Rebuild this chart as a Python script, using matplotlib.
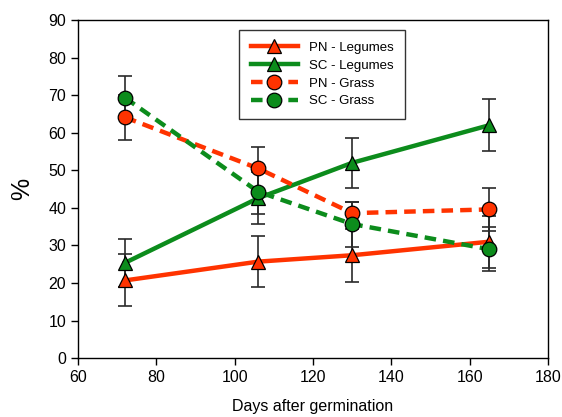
import matplotlib
matplotlib.use("Agg")
import matplotlib.pyplot as plt

plt.rcParams["font.family"] = ["Liberation Sans", "DejaVu Sans"]

days = [72, 106, 130, 165]

pn_legumes = [20.7, 25.7, 27.4, 31.0]
pn_legumes_err = [6.9, 6.8, 7.0, 6.9]
sc_legumes = [25.4, 42.6, 52.0, 62.0]
sc_legumes_err = [6.4, 6.9, 6.6, 6.9]
pn_grass = [64.1, 50.5, 38.6, 39.6]
pn_grass_err = [5.9, 5.6, 2.9, 5.7]
sc_grass = [69.3, 44.3, 35.7, 29.0]
sc_grass_err = [5.7, 5.8, 6.0, 5.8]

RED = "#ff3300"
GREEN = "#0c8c1c"

fig = plt.figure(figsize=(5.62, 4.17), dpi=100)
ax = fig.add_axes([0.139, 0.141, 0.836, 0.811])

series = [
    (pn_legumes, pn_legumes_err, RED, "-", "^", "PN - Legumes"),
    (sc_legumes, sc_legumes_err, GREEN, "-", "^", "SC - Legumes"),
    (pn_grass, pn_grass_err, RED, (0, (2.6, 1.6)), "o", "PN - Grass"),
    (sc_grass, sc_grass_err, GREEN, (0, (2.6, 1.6)), "o", "SC - Grass"),
]

# error bars first so markers sit on top
for vals, err, col, ls, mk, lab in series:
    ax.errorbar(days, vals, yerr=err, fmt="none", ecolor="#2a2a2a",
                elinewidth=1.2, capsize=5, capthick=1.2, zorder=1)

for vals, err, col, ls, mk, lab in series:
    ax.plot(days, vals, color=col, linestyle=ls, linewidth=3.2,
            marker=mk, markersize=10.5, markerfacecolor=col,
            markeredgecolor="black", markeredgewidth=0.9, label=lab, zorder=3)

ax.set_xlim(60, 180)
ax.set_ylim(0, 90)
ax.set_xticks(range(60, 181, 20))
ax.set_yticks(range(0, 91, 10))
ax.tick_params(direction="out", length=5, width=1, labelsize=11.5, top=False, right=False)
for s in ax.spines.values():
    s.set_linewidth(1)

ax.set_xlabel("Days after germination", fontsize=11.5, labelpad=10)
ax.set_ylabel("%", fontsize=18, labelpad=10)

leg = ax.legend(loc="upper left", bbox_to_anchor=(0.328, 0.99), fontsize=9.5,
                handlelength=3.6, frameon=True, fancybox=False, borderpad=0.9,
                labelspacing=0.42, handletextpad=0.8)
leg.get_frame().set_edgecolor("black")
leg.get_frame().set_linewidth(1)

fig.savefig("out.png", dpi=100)
